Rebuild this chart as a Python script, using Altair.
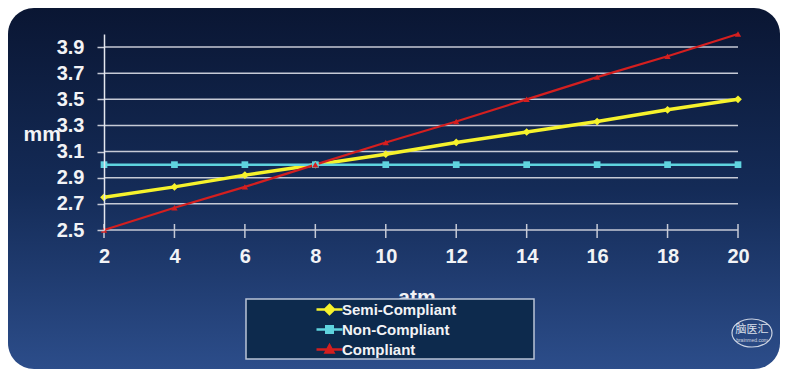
import altair as alt
import pandas as pd

# ---------------- data ----------------
pressure = [2, 4, 6, 8, 10, 12, 14, 16, 18, 20]
semi_compliant = [2.75, 2.83, 2.92, 3.00, 3.08, 3.17, 3.25, 3.33, 3.42, 3.50]
non_compliant = [3.00, 3.00, 3.00, 3.00, 3.00, 3.00, 3.00, 3.00, 3.00, 3.00]
compliant = [2.50, 2.67, 2.83, 3.00, 3.17, 3.33, 3.50, 3.67, 3.83, 4.00]
series = ["Semi-Compliant", "Non-Compliant", "Compliant"]
colors = ["#f6f22c", "#5fd3de", "#d41f1f"]
shapes = ["diamond", "square", "triangle-up"]
marker_sizes = [60, 45, 40]
line_widths = [3.5, 2.5, 2.2]
y_ticks = [2.5, 2.7, 2.9, 3.1, 3.3, 3.5, 3.7, 3.9]

rows = []
for name, vals in zip(series, [semi_compliant, non_compliant, compliant]):
    for p, v in zip(pressure, vals):
        rows.append({"series": name, "atm": p, "mm": v})
df = pd.DataFrame(rows)
grid_df = pd.DataFrame({"mm": y_ticks})
tick_df = pd.DataFrame({"atm": pressure})
one = pd.DataFrame({"k": [0]})

# ---------------- layout ----------------
W, H = 634, 196
PL, PT, PR, PB = 96, 26, 42, 139
FONT = "Liberation Sans"
TXT = "#f2f3f6"
GRID = "#c6cad6"

x_scale = alt.Scale(domain=[2, 20], nice=False, zero=False)
y_scale = alt.Scale(domain=[2.5, 4.0], nice=False, zero=False)

x_axis = alt.Axis(values=pressure, title=None, domain=False, ticks=False, grid=False,
                  labelFont=FONT, labelFontSize=20, labelFontWeight="bold", labelColor=TXT,
                  labelPadding=16, labelFlush=False, zindex=1)
y_axis = alt.Axis(values=y_ticks, format=".1f", title="mm", titleAngle=0, titleX=-81, titleY=106,
                  titleAlign="left", titleBaseline="alphabetic", titleFont=FONT, titleFontSize=21,
                  titleFontWeight="bold", titleColor=TXT, domain=True, domainColor="#e4e7ef",
                  domainWidth=1.5, ticks=True, tickSize=7, tickColor=GRID, tickWidth=1.5,
                  grid=False, labelFont=FONT, labelFontSize=20, labelFontWeight="bold",
                  labelColor=TXT, labelPadding=13, labelFlush=False, zindex=1)

X = alt.X("atm:Q", scale=x_scale, axis=x_axis)
Y = alt.Y("mm:Q", scale=y_scale, axis=y_axis)

sym_expr = ("datum.value === 'Semi-Compliant' ? 'M-2,0L2,0M0,-0.7L0.7,0L0,0.7L-0.7,0Z' : "
            "datum.value === 'Non-Compliant' ? 'M-2,0L2,0M-0.5,-0.5L0.5,-0.5L0.5,0.5L-0.5,0.5Z' : "
            "'M-2,0L2,0M0,-0.65L0.6,0.45L-0.6,0.45Z'")
col_expr = "scale('color', datum.value)"
legend = alt.Legend(orient="none", legendX=217.5, legendY=267.5, title=None,
                    labelFont=FONT, labelFontSize=15, labelFontWeight="bold", labelColor=TXT,
                    symbolSize=169, symbolOffset=0, labelOffset=4.5, rowPadding=1, padding=0,
                    symbolType=alt.ExprRef(sym_expr),
                    symbolFillColor=alt.ExprRef(col_expr),
                    symbolStrokeColor=alt.ExprRef(col_expr),
                    symbolStrokeWidth=2.5, symbolOpacity=1)
color = alt.Color("series:N", scale=alt.Scale(domain=series, range=colors), legend=legend)

gradient = alt.Gradient(gradient="linear", x1=0, x2=0, y1=0, y2=1,
                        stops=[alt.GradientStop(color="#0a1633", offset=0),
                               alt.GradientStop(color="#142b57", offset=0.5),
                               alt.GradientStop(color="#2c4d8a", offset=1)])

bg = alt.Chart(one).mark_rect(fill=gradient, cornerRadius=26).encode(
    x=alt.value(-PL), x2=alt.value(W + PR), y=alt.value(-PT), y2=alt.value(H + PB))

grid = alt.Chart(grid_df).mark_rule(color=GRID, strokeWidth=1.5).encode(
    y=Y, x=alt.value(0), x2=alt.value(W))

xticks = alt.Chart(tick_df).mark_rule(color=GRID, strokeWidth=1.5).encode(
    x=X, y=alt.value(H - 6), y2=alt.value(H + 8))

series_layers = []
for name, lw in zip(series, line_widths):
    series_layers.append(
        alt.Chart(df).transform_filter(alt.datum.series == name)
        .mark_line(strokeWidth=lw).encode(x=X, y=Y, color=color))
for name, shp, sz in zip(series, shapes, marker_sizes):
    series_layers.append(
        alt.Chart(df).transform_filter(alt.datum.series == name)
        .mark_point(filled=True, opacity=1, shape=shp, size=sz).encode(x=X, y=Y, color=color))

atm_title = alt.Chart(one).mark_text(text="atm", font=FONT, fontSize=21, fontWeight="bold",
                                      color=TXT, align="center", baseline="alphabetic").encode(
    x=alt.value(W / 2 - 4), y=alt.value(270))

legend_box = alt.Chart(one).mark_rect(fill="#0d2a4d", stroke="#b9c3d6", strokeWidth=1.5).encode(
    x=alt.value(142), x2=alt.value(430), y=alt.value(265), y2=alt.value(325))

ellipse = "M-1,0A1,0.7 0 1,0 1,0A1,0.7 0 1,0 -1,0Z"
wm_shape = alt.Chart(one).mark_point(shape=ellipse, size=1600, stroke="#e8ecf4", strokeWidth=1.2,
                                     filled=False, opacity=0.85).encode(
    x=alt.value(648), y=alt.value(299))
wm_text = alt.Chart(one).mark_text(text="脑医汇", font="Noto Sans CJK SC", fontSize=11,
                                   color="#eef1f6", opacity=0.9).encode(
    x=alt.value(648), y=alt.value(296))
wm_sub = alt.Chart(one).mark_text(text="brainmed.com", font=FONT, fontSize=5,
                                  color="#eef1f6", opacity=0.8).encode(
    x=alt.value(648), y=alt.value(306))

chart = alt.layer(bg, grid, xticks, *series_layers, atm_title, legend_box,
                  wm_shape, wm_text, wm_sub).properties(
    width=W, height=H,
    autosize=alt.AutoSizeParams(type="none"),
    padding={"left": PL, "top": PT, "right": PR, "bottom": PB},
    background="white",
).configure_view(stroke=None)

chart.save("out.html", embed_options={"renderer": "svg", "actions": False})
